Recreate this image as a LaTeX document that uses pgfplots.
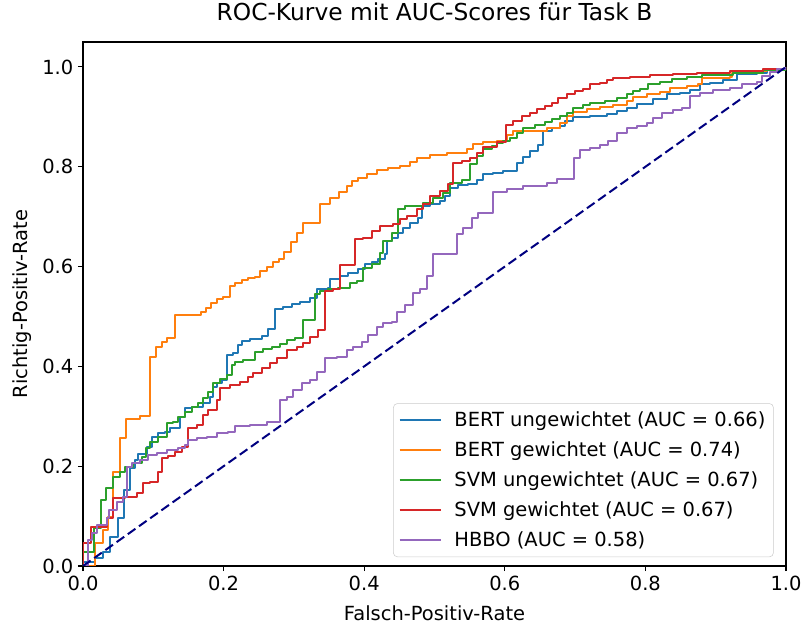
\documentclass[border=0pt]{standalone}
\usepackage{fontspec}
\setmainfont{DejaVu Sans}
\usepackage{pgfplots}
\pgfplotsset{compat=1.18}
\definecolor{mplblue}{HTML}{1F77B4}
\definecolor{mplorange}{HTML}{FF7F0E}
\definecolor{mplgreen}{HTML}{2CA02C}
\definecolor{mplred}{HTML}{D62728}
\definecolor{mplpurple}{HTML}{9467BD}
\definecolor{navyblue}{RGB}{0,0,128}
\begin{document}
\begin{tikzpicture}
\useasboundingbox (-62.25pt,-46.5pt) rectangle (538.5pt,424.5pt);
\begin{axis}[
  at={(0,0)}, anchor=south west,
  scale only axis, width=527.25pt, height=393pt,
  xmin=0, xmax=1, ymin=0, ymax=1.05,
  xtick={0,0.2,0.4,0.6,0.8,1}, ytick={0,0.2,0.4,0.6,0.8,1},
  xtick pos=left, ytick pos=left, tick align=outside,
  major tick length=3.8pt,
  every tick/.style={black, line width=0.8pt},
  axis line style={line width=0.8pt},
  /pgf/number format/assume math mode=true,
  xticklabel style={/pgf/number format/fixed, /pgf/number format/fixed zerofill, /pgf/number format/precision=1},
  yticklabel style={/pgf/number format/fixed, /pgf/number format/fixed zerofill, /pgf/number format/precision=1},
  ticklabel style={font=\fontsize{14.6}{17}\selectfont},
  title={ROC-Kurve mit AUC-Scores für Task B},
  title style={at={(axis description cs:0.5,1.042)}, anchor=center, font=\fontsize{17.5}{21}\selectfont},
  xlabel={Falsch-Positiv-Rate},
  xlabel style={at={(axis description cs:0.5,-0.0906)}, anchor=center, font=\fontsize{14.6}{17}\selectfont},
  ylabel={Richtig-Positiv-Rate},
  ylabel style={at={(axis description cs:-0.0868,0.5)}, anchor=center, font=\fontsize{14.6}{17}\selectfont},
  legend style={at={(axis description cs:0.9825,0.017)}, anchor=south east,
    draw=black!20, rounded corners=3pt, fill=white, fill opacity=0.8, text opacity=1,
    font=\fontsize{14.6}{17}\selectfont, inner xsep=4pt, inner ysep=4pt, row sep=6pt,
    /tikz/every odd column/.append style={column sep=7.5pt}},
  legend cell align=left,
  legend image code/.code={\draw[#1] (0pt,0pt) -- (30.75pt,0pt);},
  every axis plot/.append style={line width=1.5pt, line join=round, const plot},
]
\addplot[mplblue] coordinates {
(0,0) (0,0.008) (0.017,0.016) (0.028,0.028) (0.038,0.058) (0.050,0.096) (0.058,0.152) (0.067,0.196) (0.074,0.212) (0.078,0.224) (0.091,0.238) (0.098,0.258) (0.107,0.266) (0.117,0.268) (0.124,0.276) (0.138,0.298) (0.145,0.316) (0.155,0.318) (0.171,0.326) (0.181,0.338) (0.185,0.358) (0.191,0.366) (0.198,0.372) (0.205,0.422) (0.213,0.426) (0.220,0.442) (0.226,0.450) (0.238,0.454) (0.255,0.460) (0.263,0.474) (0.273,0.514) (0.284,0.518) (0.297,0.524) (0.309,0.528) (0.323,0.538) (0.333,0.556) (0.349,0.558) (0.351,0.576) (0.366,0.582) (0.377,0.588) (0.391,0.596) (0.401,0.606) (0.411,0.610) (0.420,0.616) (0.430,0.626) (0.432,0.652) (0.440,0.658) (0.448,0.668) (0.455,0.678) (0.465,0.688) (0.477,0.698) (0.482,0.722) (0.494,0.726) (0.508,0.732) (0.515,0.742) (0.522,0.758) (0.533,0.764) (0.548,0.766) (0.560,0.774) (0.569,0.786) (0.583,0.788) (0.597,0.792) (0.617,0.808) (0.626,0.820) (0.636,0.832) (0.647,0.844) (0.654,0.872) (0.667,0.878) (0.679,0.882) (0.686,0.892) (0.697,0.900) (0.721,0.902) (0.745,0.906) (0.760,0.912) (0.774,0.918) (0.788,0.926) (0.811,0.936) (0.831,0.946) (0.849,0.948) (0.863,0.954) (0.878,0.966) (0.892,0.968) (0.910,0.974) (0.930,0.986) (0.959,0.988) (0.973,0.996) (1,1)
};
\addlegendentry{BERT ungewichtet (AUC = 0.66)}
\addplot[mplorange] coordinates {
(0,0) (0.017,0.046) (0.028,0.072) (0.036,0.098) (0.043,0.188) (0.053,0.256) (0.061,0.294) (0.081,0.300) (0.095,0.418) (0.104,0.438) (0.112,0.448) (0.119,0.456) (0.131,0.502) (0.168,0.508) (0.175,0.516) (0.182,0.526) (0.191,0.536) (0.199,0.540) (0.209,0.562) (0.216,0.568) (0.226,0.574) (0.235,0.578) (0.245,0.580) (0.252,0.592) (0.262,0.600) (0.270,0.610) (0.279,0.616) (0.286,0.630) (0.296,0.650) (0.304,0.668) (0.313,0.688) (0.337,0.726) (0.351,0.738) (0.364,0.750) (0.376,0.762) (0.383,0.772) (0.391,0.778) (0.404,0.786) (0.418,0.794) (0.434,0.798) (0.451,0.802) (0.465,0.810) (0.475,0.818) (0.494,0.824) (0.518,0.828) (0.546,0.836) (0.555,0.846) (0.569,0.850) (0.589,0.852) (0.603,0.864) (0.612,0.872) (0.660,0.878) (0.679,0.888) (0.688,0.902) (0.697,0.910) (0.717,0.916) (0.735,0.920) (0.754,0.924) (0.774,0.932) (0.782,0.940) (0.802,0.946) (0.821,0.950) (0.835,0.958) (0.859,0.962) (0.875,0.966) (0.881,0.978) (0.920,0.980) (0.923,0.988) (0.953,0.992) (0.973,0.996) (1,1)
};
\addlegendentry{BERT gewichtet (AUC = 0.74)}
\addplot[mplgreen] coordinates {
(0,0) (0,0.028) (0.016,0.076) (0.026,0.132) (0.033,0.156) (0.043,0.178) (0.053,0.188) (0.060,0.198) (0.071,0.206) (0.084,0.218) (0.090,0.236) (0.095,0.248) (0.107,0.258) (0.119,0.286) (0.128,0.288) (0.135,0.298) (0.145,0.308) (0.155,0.318) (0.164,0.326) (0.171,0.336) (0.178,0.348) (0.185,0.366) (0.195,0.374) (0.205,0.382) (0.212,0.402) (0.216,0.408) (0.228,0.412) (0.245,0.428) (0.256,0.434) (0.269,0.438) (0.280,0.444) (0.290,0.452) (0.302,0.456) (0.313,0.492) (0.330,0.546) (0.337,0.552) (0.349,0.556) (0.363,0.558) (0.380,0.568) (0.390,0.572) (0.398,0.598) (0.411,0.606) (0.422,0.628) (0.427,0.652) (0.440,0.668) (0.448,0.716) (0.458,0.722) (0.484,0.728) (0.498,0.738) (0.512,0.748) (0.522,0.768) (0.539,0.774) (0.550,0.806) (0.560,0.822) (0.569,0.836) (0.582,0.842) (0.589,0.848) (0.597,0.852) (0.607,0.858) (0.617,0.868) (0.626,0.878) (0.643,0.884) (0.657,0.890) (0.667,0.896) (0.679,0.902) (0.688,0.908) (0.697,0.918) (0.711,0.924) (0.721,0.928) (0.743,0.932) (0.760,0.938) (0.774,0.946) (0.782,0.952) (0.792,0.956) (0.804,0.966) (0.821,0.970) (0.838,0.976) (0.859,0.980) (0.881,0.984) (0.925,0.988) (0.967,0.994) (1,1)
};
\addlegendentry{SVM ungewichtet (AUC = 0.67)}
\addplot[mplred] coordinates {
(0,0) (0,0.046) (0.011,0.078) (0.034,0.096) (0.043,0.136) (0.060,0.138) (0.077,0.146) (0.085,0.166) (0.095,0.168) (0.107,0.188) (0.112,0.216) (0.121,0.220) (0.131,0.228) (0.141,0.238) (0.149,0.276) (0.162,0.282) (0.171,0.302) (0.178,0.312) (0.191,0.332) (0.195,0.356) (0.209,0.362) (0.223,0.368) (0.235,0.378) (0.242,0.386) (0.255,0.396) (0.266,0.406) (0.276,0.416) (0.290,0.432) (0.304,0.438) (0.313,0.446) (0.323,0.458) (0.334,0.472) (0.344,0.552) (0.356,0.556) (0.366,0.604) (0.387,0.656) (0.398,0.658) (0.411,0.672) (0.422,0.682) (0.441,0.686) (0.451,0.696) (0.461,0.702) (0.475,0.716) (0.484,0.726) (0.494,0.742) (0.508,0.752) (0.519,0.766) (0.526,0.808) (0.539,0.812) (0.550,0.818) (0.560,0.828) (0.569,0.840) (0.589,0.850) (0.602,0.884) (0.612,0.892) (0.624,0.902) (0.636,0.908) (0.646,0.916) (0.657,0.922) (0.667,0.928) (0.676,0.938) (0.688,0.946) (0.700,0.952) (0.711,0.956) (0.721,0.966) (0.735,0.968) (0.745,0.974) (0.754,0.978) (0.778,0.980) (0.807,0.984) (0.839,0.986) (0.873,0.988) (0.920,0.992) (0.967,0.996) (1,1)
};
\addlegendentry{SVM gewichtet (AUC = 0.67)}
\addplot[mplpurple] coordinates {
(0,0) (0.007,0.052) (0.013,0.066) (0.020,0.082) (0.034,0.096) (0.037,0.112) (0.048,0.128) (0.057,0.138) (0.063,0.198) (0.070,0.206) (0.081,0.212) (0.092,0.222) (0.105,0.226) (0.119,0.232) (0.135,0.236) (0.145,0.242) (0.149,0.252) (0.162,0.256) (0.176,0.258) (0.191,0.266) (0.206,0.268) (0.216,0.280) (0.238,0.282) (0.262,0.288) (0.280,0.332) (0.290,0.338) (0.299,0.352) (0.312,0.366) (0.323,0.372) (0.333,0.388) (0.344,0.416) (0.361,0.418) (0.376,0.432) (0.384,0.438) (0.397,0.448) (0.405,0.462) (0.418,0.478) (0.427,0.486) (0.440,0.488) (0.447,0.508) (0.458,0.522) (0.469,0.548) (0.479,0.556) (0.489,0.582) (0.498,0.626) (0.532,0.666) (0.541,0.678) (0.553,0.698) (0.562,0.708) (0.583,0.750) (0.603,0.756) (0.626,0.762) (0.660,0.768) (0.674,0.776) (0.698,0.818) (0.707,0.834) (0.721,0.838) (0.735,0.844) (0.747,0.852) (0.760,0.868) (0.774,0.878) (0.788,0.882) (0.802,0.888) (0.811,0.898) (0.824,0.908) (0.839,0.914) (0.852,0.918) (0.863,0.942) (0.878,0.948) (0.896,0.954) (0.920,0.958) (0.937,0.966) (0.959,0.970) (0.966,0.982) (0.977,0.990) (0.987,0.996) (1,1)
};
\addlegendentry{HBBO (AUC = 0.58)}
\addplot[navyblue, line width=1.5pt, dash pattern=on 7pt off 3.3pt, sharp plot, forget plot] coordinates {(0,0) (1,1)};
\end{axis}
\end{tikzpicture}
\end{document}
